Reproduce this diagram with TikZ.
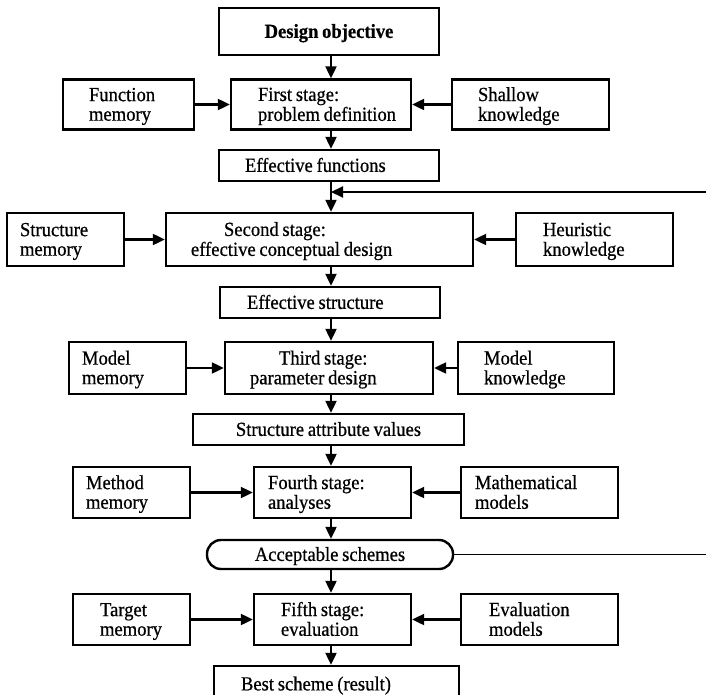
\documentclass[tikz,border=0pt]{standalone}
\usepackage{fontspec}
\setmainfont{Liberation Serif}[FakeStretch=0.93, FakeBold=0.6, WordSpace=0.8]
\usetikzlibrary{arrows.meta}
% left-aligned block of lines that may run past the nominal text width;
% natural word spaces, and a rule giving the first line a little room above
\newcommand\lstk[1]{\spaceskip=0pt\xspaceskip=0pt%
  \begin{tabular}{@{}l@{}}\rule{0pt}{18.65pt}#1\end{tabular}}
\begin{document}
\begin{tikzpicture}[x=1pt,y=-1pt,
  txt/.style={font=\fontsize{20}{19.5}\selectfont},
  bold/.style={font=\fontsize{20}{19.5}\selectfont\bfseries},
  box/.style={txt, draw, line width=2.4pt, rectangle, inner ysep=1pt},
  lbox/.code 2 args={\pgfmathsetmacro\boxtw{#1-2*#2}%
     \pgfkeysalso{/tikz/text width=\boxtw pt, /tikz/inner xsep=#2pt, /tikz/align=left}},
  cbox/.style={minimum width=#1, align=center, inner xsep=0pt},
  arr/.style={line width=2.2pt, -{Triangle[length=12pt,width=11pt]}},
  feed/.style={line width=2pt},
]
\useasboundingbox (0,0) rectangle (706,695);
\clip (0,0) rectangle (706,695);
\coordinate (spine) at (331,0);

% main column and side inputs
\node[box, bold, cbox=220pt, minimum height=47pt] (dobj) at (329,31.5) {\lstk{Design objective}};

\node[box, lbox={180}{27}, minimum height=50pt] (s1) at (321,104.5) {\lstk{First stage:\\problem definition}};
\node[box, lbox={131}{26}, minimum height=50pt] (fmem) at (128.5,104.5) {\lstk{Function\\memory}};
\node[box, lbox={157}{26}, minimum height=50pt] (shal) at (530.5,104.5) {\lstk{Shallow\\knowledge}};

\node[box, lbox={220}{26}, minimum height=31pt] (ef) at (329,165.5) {\lstk{Effective functions}};

\node[box, lbox={307}{25}, minimum height=53pt] (s2) at (319.5,239.5) {\lstk{\hspace*{33pt}Second stage:\\effective conceptual design}};
\node[box, lbox={117}{13}, minimum height=53pt] (smem) at (65.5,239.5) {\lstk{Structure\\memory}};
\node[box, lbox={157}{27}, minimum height=53pt] (heur) at (594.5,239.5) {\lstk{Heuristic\\knowledge}};

\node[box, lbox={220}{27}, minimum height=31pt] (es) at (330,302.5) {\lstk{Effective structure}};

\node[box, lbox={208}{25}, minimum height=52pt] (s3) at (329,368) {\lstk{\hspace*{29pt}Third stage:\\parameter design}};
\node[box, lbox={117}{13}, minimum height=52pt] (mmem) at (127.5,368) {\lstk{Model\\memory}};
\node[box, lbox={156}{26}, minimum height=52pt] (mknow) at (536,368) {\lstk{Model\\knowledge}};

\node[box, cbox=271pt, minimum height=31pt] (sav) at (328.5,429.5) {\lstk{Structure attribute values}};

\node[box, lbox={157}{14}, minimum height=51pt] (s4) at (332.5,492.5) {\lstk{Fourth stage:\\analyses}};
\node[box, lbox={117}{13}, minimum height=51pt] (methm) at (131.5,492.5) {\lstk{Method\\memory}};
\node[box, lbox={157}{14}, minimum height=51pt] (math) at (539.5,492.5) {\lstk{Mathematical\\models}};

\node[box, cbox=246pt, minimum height=29pt, rounded corners=14pt] (acc) at (330,554.5) {\lstk{Acceptable schemes}};

\node[box, lbox={157}{27}, minimum height=51pt] (s5) at (332.5,619.5) {\lstk{Fifth stage:\\evaluation}};
\node[box, lbox={117}{27}, minimum height=51pt] (tmem) at (131.5,619.5) {\lstk{Target\\memory}};
\node[box, lbox={157}{28}, minimum height=51pt] (evalm) at (539.5,619.5) {\lstk{Evaluation\\models}};

\node[box, lbox={245}{27}, minimum height=36pt] (best) at (336.5,684) {\lstk{Best scheme (result)}};

% downward flow along the spine
\draw[arr] (dobj.south -| spine) -- (s1.north -| spine);
\draw[arr] (s1.south -| spine) -- (ef.north -| spine);
\draw[arr] (ef.south -| spine) -- (s2.north -| spine);
\draw[arr] (s2.south -| spine) -- (es.north -| spine);
\draw[arr] (es.south -| spine) -- (s3.north -| spine);
\draw[arr] (s3.south -| spine) -- (sav.north -| spine);
\draw[arr] (sav.south -| spine) -- (s4.north -| spine);
\draw[arr] (s4.south -| spine) -- (acc.north -| spine);
\draw[arr] (acc.south -| spine) -- (s5.north -| spine);
\draw[arr] (s5.south -| spine) -- (best.north -| spine);

% side inputs
\draw[arr] (fmem.east) -- (s1.west);
\draw[arr] (shal.west) -- (s1.east);
\draw[arr] (smem.east) -- (s2.west);
\draw[arr] (heur.west) -- (s2.east);
\draw[arr] (mmem.east) -- (s3.west);
\draw[arr] (mknow.west) -- (s3.east);
\draw[arr] (methm.east) -- (s4.west);
\draw[arr] (math.west) -- (s4.east);
\draw[arr] (tmem.east) -- (s5.west);
\draw[arr] (evalm.west) -- (s5.east);

% feedback loop
\coordinate (fbin) at (712,192);
\coordinate (fbout) at (712,554.5);
\draw[arr, line width=2pt] (fbin) -- (fbin -| spine);
\draw[feed, line width=1.8pt] (acc.east) -- (fbout);
\end{tikzpicture}
\end{document}
